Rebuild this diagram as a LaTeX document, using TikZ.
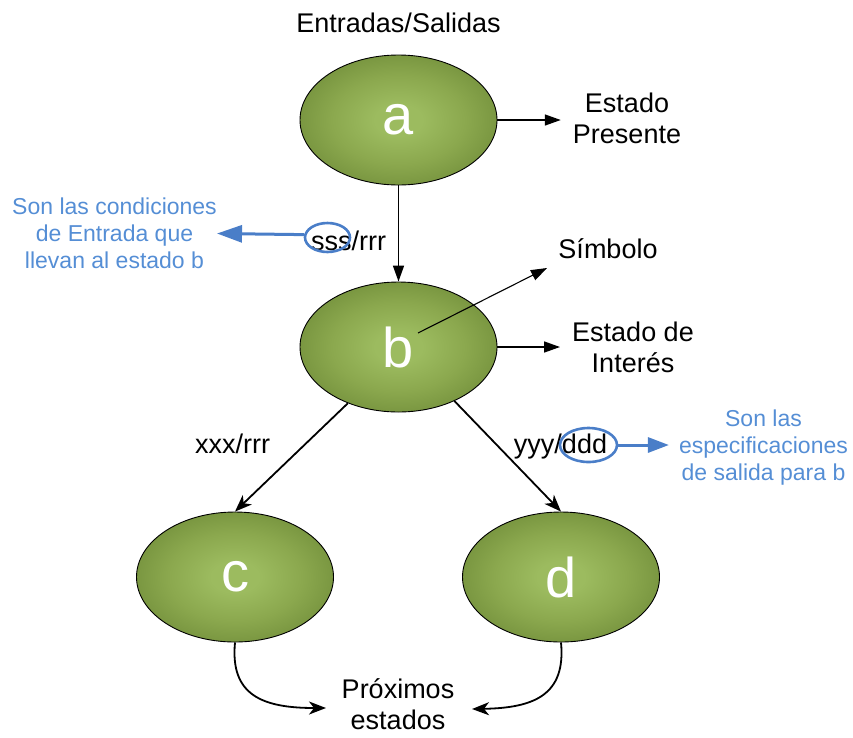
\documentclass[tikz,border=0pt]{standalone}
\usepackage{fontspec}
\setmainfont{Liberation Sans}
\usetikzlibrary{shapes.geometric,arrows.meta}
\definecolor{olivein}{HTML}{9CBB5F}
\definecolor{olivemid}{HTML}{8BA84E}
\definecolor{oliveout}{HTML}{7A9741}
\definecolor{noteblue}{HTML}{558ED5}
\definecolor{ringblue}{HTML}{4A7EC8}
% soft olive fill: light centre fading to a darker rim
\pgfdeclareradialshading{olivefill}{\pgfpoint{0bp}{0bp}}{%
  color(0bp)=(olivein); color(6bp)=(olivein); color(17bp)=(olivemid);
  color(25bp)=(oliveout); color(50bp)=(oliveout)}
\begin{document}
\begin{tikzpicture}[x=1pt,y=-1pt,
  state/.style={ellipse, draw=black, line width=0.9pt, shading=olivefill,
    minimum width=197pt, minimum height=130pt, inner sep=0pt, text=white,
    font=\fontsize{56}{60}\selectfont},
  lbl/.style={font=\fontsize{27}{31}\selectfont, align=center, inner sep=0pt},
  note/.style={font=\fontsize{23}{27}\selectfont, text=noteblue, align=center, inner sep=0pt},
  ring/.style={ellipse, draw=ringblue, line width=2.6pt, inner sep=0pt},
  link/.style={line width=1.5pt, -{Triangle[length=16pt,width=11pt]}},
  trans/.style={line width=1.8pt, -{Stealth[length=17pt,width=13pt,inset=5pt]}},
  bluelink/.style={draw=ringblue, line width=3pt}]

\useasboundingbox (0,0) rectangle (853,737);

% states
\node[state] (a) at (398.5,120) {a};
\node[state] (b) at (398.5,347) {b};
\node[state] (c) at (235,577) {c};
\node[state] (d) at (561,577) {d};

% black labels
\node[lbl, anchor=base] (io) at (398.5,32) {Entradas/Salidas};
\node[lbl] (pres) at (627,118) {Estado\\Presente};
\node[lbl] (inter) at (633,347.5) {Estado de\\Interés};
\node[lbl, anchor=base] (sym) at (608,258) {Símbolo};
\node[lbl, anchor=base] (tab) at (348.5,250) {sss/rrr};
\node[lbl, anchor=base] (tbc) at (232.5,453) {xxx/rrr};
\node[lbl, anchor=base] (tbd) at (560.5,453) {yyy/ddd};
\node[lbl] (next) at (398,704) {Próximos\\estados};

% blue notes
\node[note] (condnote) at (114.5,233.5) {Son las condiciones\\de Entrada que\\llevan al estado b};
\node[note] (specnote) at (763.5,448) {Son las\\especificaciones\\de salida para b};
\node[ring, minimum width=45pt, minimum height=29pt] (sssring) at (327.5,237.5) {};
\node[ring, minimum width=57pt, minimum height=34pt] (dddring) at (588.5,445) {};

% free ends
\coordinate (bsym) at (418,333);
\coordinate (symtip) at (547,268);
\coordinate (nl) at (326,708);
\coordinate (nr) at (472,709);

% transitions
\draw[link] (a.south) -- (b.north);
\draw[trans] (b.228) -- (c.north);
\draw[trans] (b.316) -- (d.north);

% pointers to the descriptions
\draw[link, shorten >=12pt] (a.east) -- (a.east -| pres.west);
\draw[link, shorten >=12pt] (b.east) -- (b.east -| inter.west);
\draw[link, line width=1.1pt] (bsym) -- (symtip);

% next states
\draw[trans] (c.south) .. controls (230,695) and (262,708) .. (nl);
\draw[trans] (d.south) .. controls (566,695) and (534,708) .. (nr);

% blue annotations
\draw[bluelink, -{Triangle[length=25pt,width=17pt]}] (sssring.173) -- (condnote.east);
\draw[bluelink, -{Triangle[length=21pt,width=15pt]}, shorten >=10pt] (dddring.east) -- (dddring.east -| specnote.west);
\end{tikzpicture}
\end{document}
